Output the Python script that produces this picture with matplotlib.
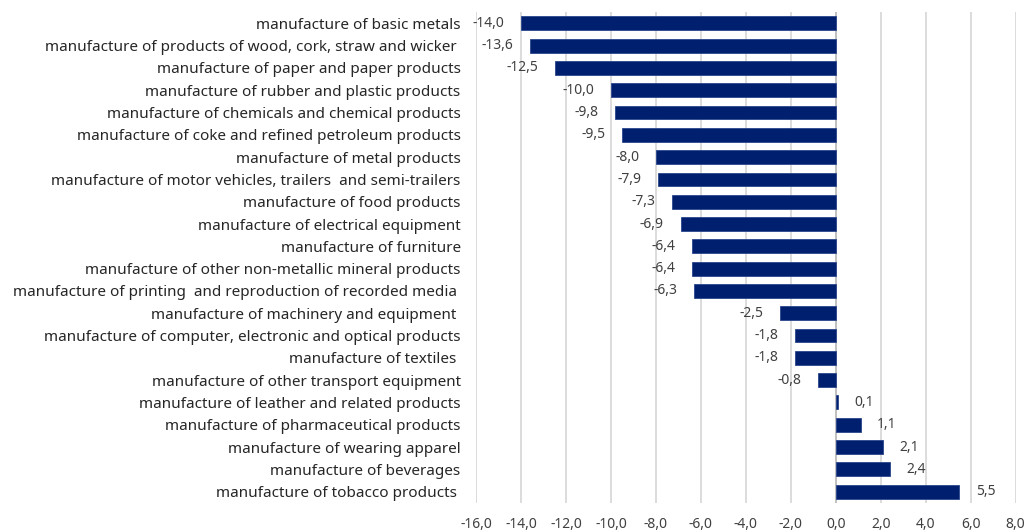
import matplotlib
matplotlib.use('Agg')
import matplotlib.pyplot as plt
import numpy as np

categories = [
    "manufacture of basic metals",
    "manufacture of products of wood, cork, straw and wicker ",
    "manufacture of paper and paper products",
    "manufacture of rubber and plastic products",
    "manufacture of chemicals and chemical products",
    "manufacture of coke and refined petroleum products",
    "manufacture of metal products",
    "manufacture of motor vehicles, trailers  and semi-trailers",
    "manufacture of food products",
    "manufacture of electrical equipment",
    "manufacture of furniture",
    "manufacture of other non-metallic mineral products",
    "manufacture of printing  and reproduction of recorded media ",
    "manufacture of machinery and equipment ",
    "manufacture of computer, electronic and optical products",
    "manufacture of textiles ",
    "manufacture of other transport equipment",
    "manufacture of leather and related products",
    "manufacture of pharmaceutical products",
    "manufacture of wearing apparel",
    "manufacture of beverages",
    "manufacture of tobacco products ",
]
values = [-14.0, -13.6, -12.5, -10.0, -9.8, -9.5, -8.0, -7.9, -7.3, -6.9,
          -6.4, -6.4, -6.3, -2.5, -1.8, -1.8, -0.8, 0.1, 1.1, 2.1, 2.4, 5.5]
xticks = np.arange(-16, 9, 2)

plt.rcParams['font.family'] = ['Noto Sans', 'DejaVu Sans']

fig = plt.figure(figsize=(10.28, 5.32), dpi=100)
ax = fig.add_axes([0.463, 0.055, 0.525, 0.922])

y = np.arange(len(categories))
ax.barh(y, values, height=0.62, color='#00206F', edgecolor='#2B468C',
        linewidth=0.6, zorder=3)

for yi, v in zip(y, values):
    txt = f"{v:.1f}".replace('.', ',')
    if v < 0:
        ax.annotate(txt, (v, yi), xytext=(-12, 0), textcoords='offset points',
                    ha='right', va='center', fontsize=10, color='#404040')
    else:
        ax.annotate(txt, (v, yi), xytext=(12, 0), textcoords='offset points',
                    ha='left', va='center', fontsize=10, color='#404040')

ax.set_xlim(-16, 8)
ax.set_ylim(len(categories) - 0.5, -0.5)
ax.set_xticks(xticks)
ax.set_xticklabels([f"{t:.1f}".replace('.', ',') for t in xticks])
ax.set_yticks(y)
ax.set_yticklabels(categories)
ax.tick_params(axis='y', length=0, pad=11, labelsize=11, labelcolor='#262626')
ax.tick_params(axis='x', length=0, pad=10, labelsize=10, labelcolor='#404040')
ax.grid(axis='x', color='#D9D9D9', linewidth=1.3, zorder=0)
for s in ax.spines.values():
    s.set_visible(False)
ax.axvline(0, color='#BFBFBF', linewidth=1.3, zorder=2)

fig.savefig('out.png', dpi=100)
